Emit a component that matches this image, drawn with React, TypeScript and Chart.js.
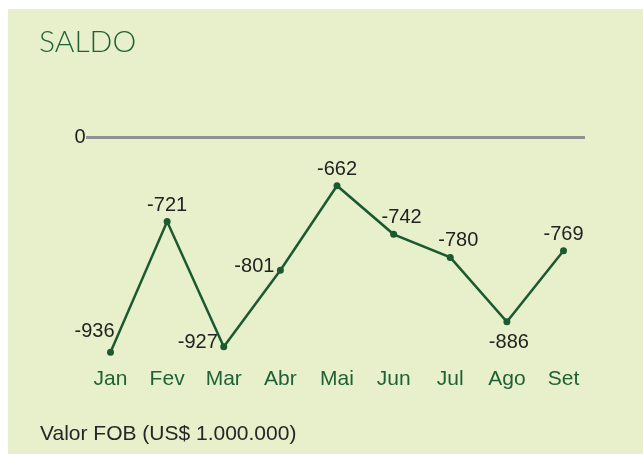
import React, { useEffect, useRef } from "react";
import { Chart, registerables } from "chart.js";

Chart.register(...registerables);

const months = ["Jan", "Fev", "Mar", "Abr", "Mai", "Jun", "Jul", "Ago", "Set"];
const saldo = [-936, -721, -927, -801, -662, -742, -780, -886, -769];
const labelPlacement = ["topLeft", "top", "left", "left", "top", "topRight", "topRight", "bottom", "top"];
const titleText = "SALDO";
const footerText = "Valor FOB (US$ 1.000.000)";
const zeroLabel = "0";

const BG = "#e8f0cb";
const LINE = "#1b5a30";
const GREEN_TEXT = "#1f6137";
const DARK = "#222222";

const decorPlugin = {
  id: "decor",
  beforeDraw(chart: any) {
    const { ctx, width, height } = chart;
    ctx.save();
    ctx.fillStyle = "#ffffff";
    ctx.fillRect(0, 0, width, height);
    ctx.fillStyle = BG;
    ctx.fillRect(8, 9, width - 8, height - 9);
    ctx.restore();
  },
  afterDatasetsDraw(chart: any) {
    const { ctx, chartArea } = chart;
    ctx.save();
    // title
    ctx.fillStyle = GREEN_TEXT;
    ctx.font = "300 30px Lato, 'Open Sans', sans-serif";
    ctx.textAlign = "left";
    ctx.textBaseline = "alphabetic";
    ctx.fillText(titleText, 39, 52);
    // zero line
    const zy = chartArea.top - 10.5;
    ctx.strokeStyle = "#919191";
    ctx.lineWidth = 3;
    ctx.beginPath();
    ctx.moveTo(chartArea.left - 24.5, zy);
    ctx.lineTo(chartArea.right + 21.5, zy);
    ctx.stroke();
    ctx.fillStyle = DARK;
    ctx.font = "20px 'Liberation Sans', Arial, sans-serif";
    ctx.textAlign = "right";
    ctx.textBaseline = "middle";
    ctx.fillText(zeroLabel, chartArea.left - 25, zy);
    // data labels
    const meta = chart.getDatasetMeta(0);
    meta.data.forEach((pt: any, i: number) => {
      const v = saldo[i];
      const p = labelPlacement[i];
      let x = pt.x;
      let y = pt.y;
      let align = "center";
      if (p === "top") { y -= 16; }
      else if (p === "bottom") { y += 21; x += 2; }
      else if (p === "left") { x -= 6; y -= 4; align = "right"; }
      else if (p === "topLeft") { x += 4; y -= 21; align = "right"; }
      else if (p === "topRight") { x += 8; y -= 17; }
      ctx.textAlign = align;
      ctx.fillText(String(v), x, y);
    });
    // footer
    ctx.font = "21px 'Liberation Sans', Arial, sans-serif";
    ctx.textAlign = "left";
    ctx.textBaseline = "alphabetic";
    ctx.fillStyle = "#262626";
    ctx.fillText(footerText, 40, 440);
    ctx.restore();
  },
};

export default function App() {
  const ref = useRef<HTMLCanvasElement>(null);
  useEffect(() => {
    if (!ref.current) return;
    const chart = new Chart(ref.current, {
      type: "line",
      data: {
        labels: months,
        datasets: [
          {
            data: saldo,
            borderColor: LINE,
            backgroundColor: LINE,
            borderWidth: 2.5,
            pointRadius: 3.5,
            pointBackgroundColor: LINE,
            pointBorderWidth: 0,
            tension: 0,
            clip: false as any,
          },
        ],
      },
      options: {
        responsive: false,
        animation: false,
        devicePixelRatio: 1,
        layout: { padding: { top: 148, left: 110.5, right: 79.5, bottom: 62 } },
        plugins: { legend: { display: false }, tooltip: { enabled: false }, title: { display: false } },
        scales: {
          x: {
            offset: false,
            grid: { display: false, drawTicks: false },
            border: { display: false },
            ticks: {
              color: GREEN_TEXT,
              padding: 0,
              font: { size: 21, family: "'Liberation Sans', Arial, sans-serif" },
              maxRotation: 0,
              autoSkip: false,
            },
          },
          y: {
            display: false,
            min: -960,
            max: -600,
          },
        },
      },
      plugins: [decorPlugin],
    });
    return () => chart.destroy();
  }, []);
  return (
    <canvas
      ref={ref}
      width={643}
      height={454}
      style={{ position: "fixed", left: 0, top: 0, width: 643, height: 454, display: "block" }}
    />
  );
}
